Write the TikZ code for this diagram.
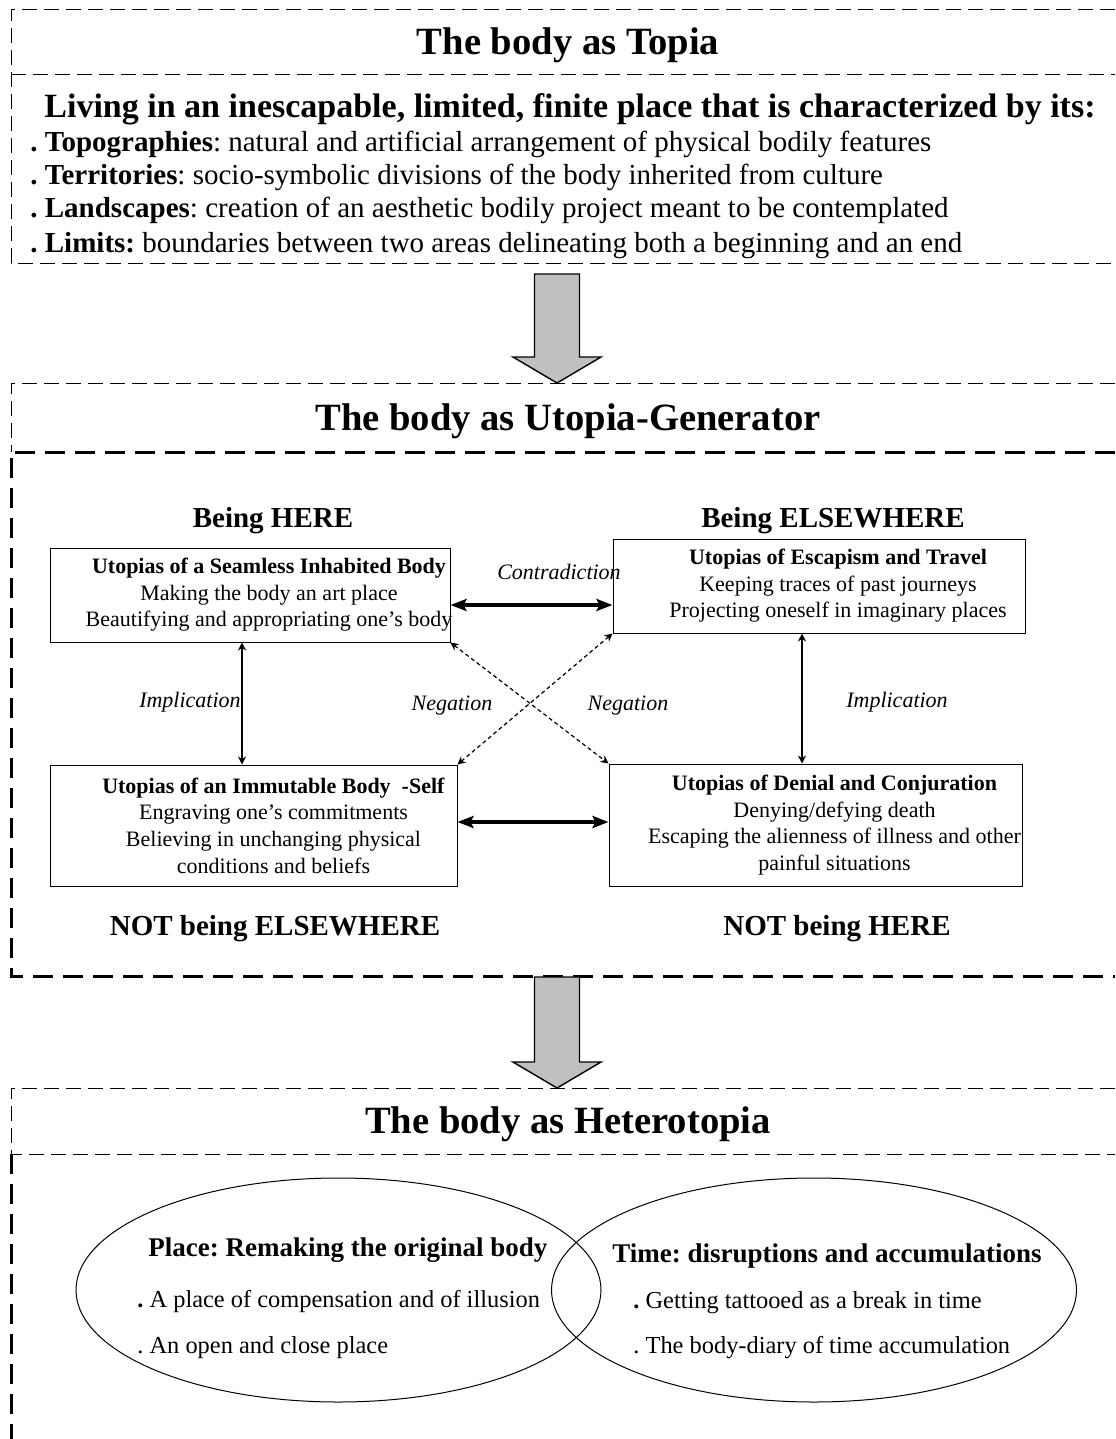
\documentclass[tikz,border=0pt]{standalone}
\usepackage{fontspec}
\setmainfont{Liberation Serif}
\usetikzlibrary{positioning,calc,arrows.meta,shapes.geometric}
\definecolor{blockgray}{RGB}{192,192,192}
\newcommand{\flowarrow}[2]{%
	\filldraw[fill=blockgray, draw=black, line width=0.7pt]
		($(#1)+(-22.5,0)$) -- ($(#2)+(-22.5,-26)$) -- ($(#2)+(-44,-26)$) -- (#2)
		-- ($(#2)+(44,-26)$) -- ($(#2)+(22.5,-26)$) -- ($(#1)+(22.5,0)$) -- cycle;}

\begin{document}
\frenchspacing
\begin{tikzpicture}[
x=0.5pt, y=-0.5pt,
thinframe/.style={line width=0.5pt, dash pattern=on 7.5pt off 3.5pt},
thickframe/.style={line width=1.5pt, dash pattern=on 10pt off 5pt},
heading/.style={anchor=base, font=\fontsize{19.3}{23}\selectfont\bfseries},
topline/.style={anchor=base west, inner xsep=0pt, font=\fontsize{14.5}{17}\selectfont},
pole/.style={anchor=base, font=\fontsize{14.5}{17}\selectfont\bfseries},
utbox/.style={draw, line width=0.5pt, inner sep=0pt},
uttext/.style={align=center, font=\fontsize{11}{13.3}\selectfont},
relation/.style={anchor=base, font=\fontsize{11}{13}\selectfont\itshape},
bigarrow/.style={line width=2pt, {Stealth[length=8pt,width=6pt,inset=1.5pt]}-{Stealth[length=8pt,width=6pt,inset=1.5pt]}},
implarrow/.style={line width=0.7pt, {Stealth[length=4pt,width=4pt]}-{Stealth[length=4pt,width=4pt]}},
negarrow/.style={line width=0.6pt, dash pattern=on 2pt off 1.5pt, {Stealth[length=4pt,width=4pt]}-{Stealth[length=4pt,width=4pt]}},
venn/.style={draw, ellipse, line width=0.5pt, minimum width=262.5pt, minimum height=112pt},
venntitle/.style={anchor=base west, inner xsep=0pt, font=\fontsize{13.5}{16}\selectfont\bfseries},
vennline/.style={anchor=base west, inner xsep=0pt, font=\fontsize{12.2}{14}\selectfont},
]
	\useasboundingbox (0,0) rectangle (1115,1439);

	% topia
	\draw[thinframe] (1115,10) -- (11,10) -- (11,263) -- (1115,263);
	\draw[thinframe] (11,75) -- (1115,75);
	\node[heading] (topia) at (568,55) {The body as Topia};
	\node[topline, font=\fontsize{17}{20}\selectfont\bfseries] (living) at (44,118) {Living in an inescapable, limited, finite place that is characterized by its:};
	\node[topline] (topo) at (30,152) {\textbf{. Topographies}: natural and artificial arrangement of physical bodily features};
	\node[topline] (terr) at (30,185) {\textbf{. Territories}: socio-symbolic divisions of the body inherited from culture};
	\node[topline] (land) at (30,218) {\textbf{. Landscapes}: creation of an aesthetic bodily project meant to be contemplated};
	\node[topline] (limits) at (30,252) {\textbf{. Limits:} boundaries between two areas delineating both a beginning and an end};

	% utopia-generator
	\draw[thinframe] (1115,383) -- (11,383) -- (11,452);
	\draw[thickframe] (1115,452) -- (11,452) -- (11,976) -- (1115,976);
	\node[heading] (utopia) at (568,430) {The body as Utopia-Generator};

	\node[pole] (here) at (273,527) {Being HERE};
	\node[pole] (elsewhere) at (833,527) {Being ELSEWHERE};
	\node[pole] (notelsewhere) at (275,935) {NOT being ELSEWHERE};
	\node[pole] (nothere) at (837,935) {NOT being HERE};

	\node[utbox, minimum width=200pt, minimum height=47pt] (seamless) at (250,595) {};
	\node[uttext] (seamlesstxt) at ($(seamless.center)+(19,0)$) {\textbf{Utopias of a Seamless Inhabited Body}\\Making the body an art place\\Beautifying and appropriating one’s body};
	\node[utbox, minimum width=206pt, minimum height=47pt] (escape) at (819,586) {};
	\node[uttext] (escapetxt) at ($(escape.center)+(19,0)$) {\textbf{Utopias of Escapism and Travel}\\Keeping traces of past journeys\\Projecting oneself in imaginary places};
	\node[utbox, minimum width=203.5pt, minimum height=60.5pt] (immutable) at (253.5,825.5) {};
	\node[uttext] (immutabletxt) at ($(immutable.center)+(20,0)$) {\textbf{Utopias of an Immutable Body~ -Self}\\Engraving one’s commitments\\Believing in unchanging physical\\conditions and beliefs};
	\node[utbox, minimum width=206.5pt, minimum height=61pt] (denial) at (815.5,825) {};
	\node[uttext] (denialtxt) at ($(denial.center)+(19,0)$) {\textbf{Utopias of Denial and Conjuration}\\Denying/defying death\\Escaping the alienness of illness and other\\painful situations};

	\coordinate (contrarow) at (0,605);
	\coordinate (lowrow) at (0,822);
	\coordinate (leftcol) at (242,0);
	\coordinate (rightcol) at (802,0);
	\draw[bigarrow] (seamless.east |- contrarow) -- (escape.west |- contrarow);
	\draw[bigarrow] (immutable.east |- lowrow) -- (denial.west |- lowrow);
	\draw[implarrow] (seamless.south -| leftcol) -- (immutable.north -| leftcol);
	\draw[implarrow] (escape.south -| rightcol) -- (denial.north -| rightcol);
	\draw[negarrow] (seamless.south east) -- (denial.north west);
	\draw[negarrow] (escape.south west) -- (immutable.north east);

	\node[relation] (contra) at (559,579) {Contradiction};
	\node[relation] (impleft) at (190,707) {Implication};
	\node[relation] (impright) at (897,707) {Implication};
	\node[relation] (negleft) at (452,710) {Negation};
	\node[relation] (negright) at (628,710) {Negation};

	% heterotopia
	\draw[thinframe] (1115,1088) -- (11,1088) -- (11,1154) -- (1115,1154);
	\draw[thickframe] (11,1154) -- (11,1439);
	\node[heading] (hetero) at (568,1133) {The body as Heterotopia};

	\node[venn] (place) at (338.5,1290) {};
	\node[venn] (time) at (814,1290) {};
	\node[venntitle] (placetitle) at (148,1256) {Place: Remaking the original body};
	\node[vennline] (compens) at (137,1307) {\textbf{.} A place of compensation and of illusion};
	\node[vennline] (openclose) at (137,1353) {. An open and close place};
	\node[venntitle] (timetitle) at (612,1262) {Time: disruptions and accumulations};
	\node[vennline] (tattoo) at (633,1308) {\textbf{.} Getting tattooed as a break in time};
	\node[vennline] (diary) at (633,1353) {. The body-diary of time accumulation};

	% block arrows
	\coordinate (topiaout) at (557,274);
	\coordinate (utopiain) at (557,383);
	\coordinate (utopiaout) at (557,977);
	\coordinate (heteroin) at (557,1088);
	\flowarrow{topiaout}{utopiain}
	\flowarrow{utopiaout}{heteroin}
\end{tikzpicture}
\end{document}
